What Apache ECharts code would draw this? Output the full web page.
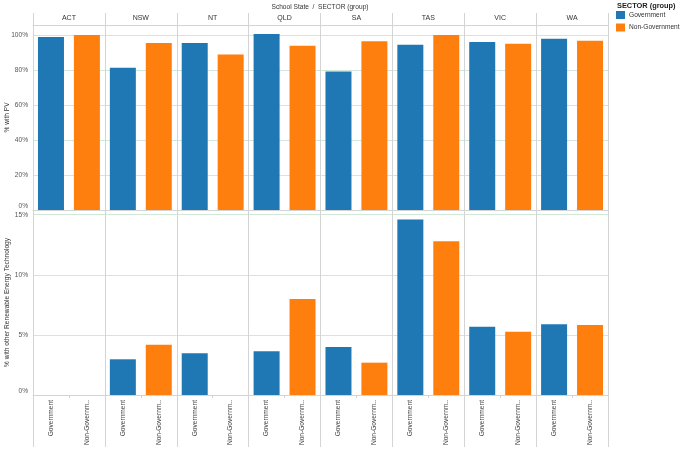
<!DOCTYPE html>
<html>
<head>
<meta charset="utf-8">
<script src="https://cdn.jsdelivr.net/npm/echarts@6/dist/echarts.min.js"></script>
<style>html,body{margin:0;padding:0;background:#fff}#c{width:681px;height:451px}</style>
</head>
<body>
<div id="c"></div>
<script>
const states = ['ACT','NSW','NT','QLD','SA','TAS','VIC','WA'];
const sectors = ['Government','Non-Government'];
const pvGov    = [98.9, 81.3, 95.4, 100.6, 79.2, 94.4, 96.0, 97.9];
const pvNonGov = [100.0, 95.4, 88.9, 93.9, 96.4, 100.0, 95.0, 96.7];
const retGov    = [0, 2.97, 3.47, 3.63, 3.99, 14.6, 5.68, 5.88];
const retNonGov = [0, 4.19, 0, 7.99, 2.69, 12.79, 5.27, 5.82];
const pvTicks = [0,20,40,60,80,100];
const retTicks = [0,5,10,15];

const cats = [];
states.forEach(s => sectors.forEach(t => cats.push(s + '|' + t)));
function slot(vals, which){
  const out = [];
  vals.forEach(v => { if (which===0){ out.push(v, '-'); } else { out.push('-', v); } });
  return out;
}
const FONT = 'Arial, "Liberation Sans", sans-serif';
const FS = 6.6;
const GREEN = '#cfe8d8';
const GRAY = '#d4d4d4';
const BLUE = '#1f77b4', ORANGE = '#ff7f0e';
const L = 33, R = 73;

const chart = echarts.init(document.getElementById('c'));
chart.setOption({
  animation: false,
  textStyle: {fontFamily: FONT},
  title: [
    {text: 'School State  /  SECTOR (group)', left: 320, top: 4, textAlign: 'center', padding: 0,
     textStyle: {fontSize: FS, fontWeight: 'normal', color: '#333', fontFamily: FONT}},
    {text: 'SECTOR (group)', left: 617, top: 2, padding: 0,
     textStyle: {fontSize: 7.4, fontWeight: 'bold', color: '#222', fontFamily: FONT}}
  ],
  legend: {
    data: sectors, orient: 'vertical', left: 616, top: 11, icon: 'rect', padding: 0,
    itemWidth: 9, itemHeight: 8, itemGap: 4.5,
    textStyle: {fontSize: FS, color: '#333', fontFamily: FONT, padding: [0,0,0,-1]}
  },
  grid: [
    {left: L, right: R, top: 13, height: 12, outerBoundsMode: 'none'},
    {left: L, right: R, top: 25, height: 185, outerBoundsMode: 'none'},
    {left: L, right: R, top: 210, height: 185, outerBoundsMode: 'none'}
  ],
  xAxis: [
    {gridIndex: 0, type: 'category', data: states, position: 'bottom',
     axisLine: {show: true, lineStyle: {color: GRAY}}, axisTick: {show: false},
     axisLabel: {inside: true, margin: 3, fontSize: 7, color: '#333', fontFamily: FONT},
     splitLine: {show: true, interval: 0, lineStyle: {color: GRAY}}},
    {gridIndex: 1, type: 'category', data: cats,
     axisLine: {show: true, lineStyle: {color: GRAY}}, axisTick: {show: false}, axisLabel: {show: false},
     splitLine: {show: true, interval: 1, lineStyle: {color: GRAY}}},
    {gridIndex: 2, type: 'category', data: cats,
     axisLine: {show: true, lineStyle: {color: GRAY}},
     axisTick: {show: true, interval: 0, length: 3, lineStyle: {color: GRAY}},
     axisLabel: {rotate: 90, margin: 5, fontSize: FS, color: '#444', fontFamily: FONT,
       width: 47, overflow: 'truncate', ellipsis: '..',
       formatter: v => v.split('|')[1]},
     splitLine: {show: true, interval: 1, lineStyle: {color: GRAY}}},
    {gridIndex: 2, type: 'category', data: cats, position: 'bottom',
     axisLine: {show: false}, axisLabel: {show: false},
     axisTick: {show: true, interval: 1, length: 52, lineStyle: {color: GRAY}}}
  ],
  yAxis: [
    {gridIndex: 0, type: 'value', show: false},
    {gridIndex: 1, type: 'value', min: 0, max: 105.7, interval: 20,
     name: '% with PV', nameLocation: 'middle', nameGap: 22, nameMoveOverlap: false,
     nameTextStyle: {fontSize: FS, color: '#333', fontFamily: FONT},
     axisLine: {show: true, lineStyle: {color: GRAY}}, axisTick: {show: false},
     axisLabel: {fontSize: FS, color: '#555', margin: 5, showMaxLabel: false, fontFamily: FONT,
       verticalAlignMinLabel: 'bottom',
       formatter: v => pvTicks.indexOf(Math.round(v*10)/10) >= 0 ? v + '%' : ''},
     splitLine: {show: true, lineStyle: {color: [GRAY, GREEN, GREEN, GREEN, GREEN, GREEN, 'rgba(0,0,0,0)']}}},
    {gridIndex: 2, type: 'value', min: 0, max: 15.39, interval: 5,
     name: '% with other Renewable Energy Technology', nameLocation: 'middle', nameGap: 22, nameMoveOverlap: false,
     nameTextStyle: {fontSize: FS, color: '#333', fontFamily: FONT},
     axisLine: {show: true, lineStyle: {color: GRAY}}, axisTick: {show: false},
     axisLabel: {fontSize: FS, color: '#555', margin: 5, showMaxLabel: false, fontFamily: FONT,
       verticalAlignMinLabel: 'bottom',
       formatter: v => retTicks.indexOf(Math.round(v*100)/100) >= 0 ? v + '%' : ''},
     splitLine: {show: true, lineStyle: {color: [GRAY, GREEN, GREEN, GREEN, GRAY]}}}
  ],
  series: [
    {name: 'Government', type: 'bar', xAxisIndex: 1, yAxisIndex: 1, data: slot(pvGov,0),
     barWidth: 26, barGap: '-100%', itemStyle: {color: BLUE}},
    {name: 'Non-Government', type: 'bar', xAxisIndex: 1, yAxisIndex: 1, data: slot(pvNonGov,1),
     barWidth: 26, barGap: '-100%', itemStyle: {color: ORANGE}},
    {name: 'Government', type: 'bar', xAxisIndex: 2, yAxisIndex: 2, data: slot(retGov,0),
     barWidth: 26, barGap: '-100%', itemStyle: {color: BLUE}},
    {name: 'Non-Government', type: 'bar', xAxisIndex: 2, yAxisIndex: 2, data: slot(retNonGov,1),
     barWidth: 26, barGap: '-100%', itemStyle: {color: ORANGE}}
  ]
});
</script>
</body>
</html>
